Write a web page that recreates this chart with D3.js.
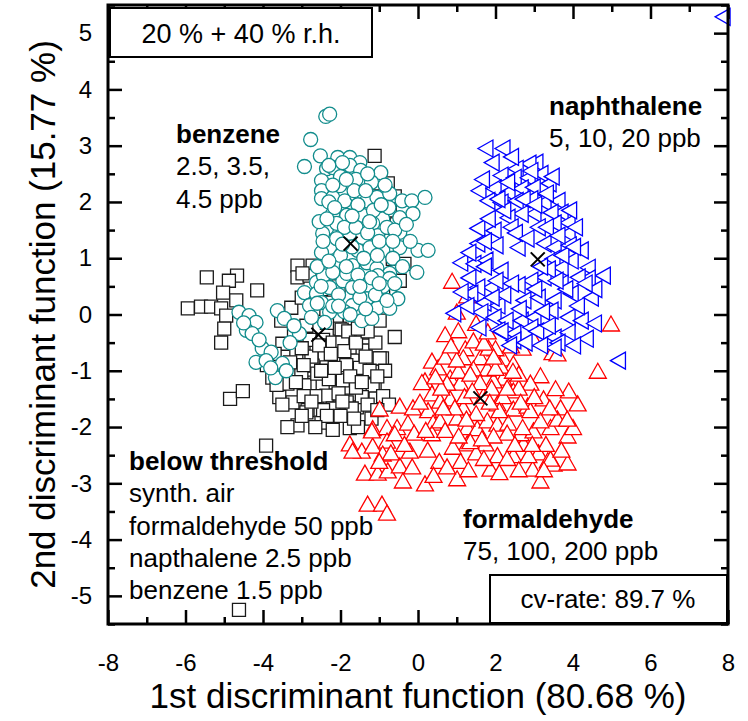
<!DOCTYPE html>
<html>
<head>
<meta charset="utf-8">
<script src="https://cdn.jsdelivr.net/npm/d3@7"></script>
<style>
  body { margin: 0; background: #fff; }
  text { font-family: "Liberation Sans", Arial, sans-serif; fill: #000; }
</style>
</head>
<body>
<svg id="chart" width="748" height="721"></svg>
<script>
//////////////////// DATA ////////////////////
// discriminant scores [1st DF, 2nd DF]
const belowThreshold = [
  [-4.62,-5.25],[-3.92,-2.33],[-4.85,-1.50],[-4.52,-1.36],
  [-1.12,2.82],[-1.43,2.38],[-1.04,2.33],[-0.78,2.33],[-0.73,1.85],[-0.80,1.31],[-0.65,0.99],[-0.47,0.60],
  [-3.11,0.87],[-2.72,0.87],[-3.11,0.66],[-2.80,0.69],[-5.45,0.66],[-4.67,0.69],[-4.88,0.60],[-4.15,0.43],
  [-5.03,0.39],[-4.69,0.25],[-5.94,0.11],[-5.60,0.14],[-5.34,0.14],[-5.08,0.11],[-4.95,-0.02],[-5.00,-0.25],
  [-5.08,-0.50],[-3.27,0.12],[-3.53,-0.11],[-2.28,0.21],[-2.10,-0.05],[-1.76,-0.07],[-1.43,-0.32],[-2.02,-0.25],
  [-3.50,-0.52],[-3.14,-0.69],[-1.71,-0.59],[-1.43,-0.64],[-0.93,-0.78],[-3.76,-1.12],[-3.40,-1.21],[-3.24,-1.56],
  [-2.85,-1.21],[-2.70,-1.25],[-2.20,-1.21],[-1.84,-1.30],[-1.43,-1.47],[-1.12,-1.26],[-1.58,-1.65],[-2.28,-1.65],
  [-2.85,-1.70],[-2.98,0.73],[-0.73,0.37],[-0.99,-0.11],[-1.97,-0.27],[-2.88,-0.20],[-2.62,-0.64],[-2.41,-0.76],
  [-2.10,-0.76],[-1.17,-0.78],[-2.72,-0.91],[-2.36,-0.94],[-2.07,-1.03],[-1.69,-0.82],[-3.01,-1.03],[-3.37,-1.23],
  [-2.93,-1.26],[-2.46,-1.26],[-1.94,-1.17],[-1.58,-1.17],[-1.17,-1.26],[-3.58,-1.47],[-2.36,-1.44],[-1.84,-1.56],
  [-1.45,-1.47],[-2.88,-1.74],[-2.49,-1.92],[-2.20,-1.67],[-1.71,-1.67],[-3.11,-1.97],[-3.37,-2.00],[-1.76,-2.02],
  [-0.99,-0.78],[-2.80,-0.45],[-2.45,-0.45],[-2.20,-0.50],[-1.95,-0.50],[-2.60,-1.05],[-2.30,-1.15],[-1.85,-0.90],
  [-1.50,-0.95],[-1.25,-1.00],[-2.65,-1.45],[-2.05,-1.40],[-1.60,-1.30],[-1.30,-1.60],[-2.75,-0.75],[-3.30,-0.85],
  [-3.00,-0.60],[-2.35,-0.15],[-1.80,-0.30],[-1.10,-0.50],[-0.85,-1.00],[-0.90,-1.45],[-1.20,-1.85],[-2.00,-1.80],
  [-3.50,-1.60],[-2.95,-1.45],[-3.70,-0.70],[-1.55,-2.00],[-2.20,-2.05],[-2.45,-1.70],
  [-0.55,1.60],[-0.60,2.10],[-0.90,0.45],[-0.35,0.90],
  [-3.20,-0.30],[-2.95,-0.90],[-2.55,-0.55],[-2.25,-0.70],[-1.90,-0.65],[-1.60,-0.50],[-1.35,-0.75],[-1.05,-1.10],
  [-2.50,-1.00],[-2.15,-0.95],[-1.75,-1.10],[-1.45,-1.20],[-3.15,-1.20],[-2.75,-1.55],[-2.35,-1.80],[-1.95,-1.55],
  [-1.65,-1.85],[-2.65,-2.00],[-3.00,-1.80],[-3.65,-1.25],[-1.30,-0.30],[-1.55,-0.25],[-2.70,0.10],[-2.50,0.45],
  [-3.00,0.30],[-0.60,-0.40],[-0.75,-1.60],[-1.05,-1.70],[-3.90,-0.90],[-2.05,0.50]
];

const benzene = [
  [-2.38,3.52],[-2.28,3.56],[-2.77,3.11],[-2.52,2.82],[-2.93,2.63],[-2.07,2.79],[-1.76,2.79],[-1.50,2.70],
  [-2.36,2.59],[-2.20,2.61],[-1.76,2.65],[-1.48,2.56],[-0.96,2.52],[-2.49,2.38],[-2.02,2.29],[-2.49,2.20],
  [-2.49,2.06],[-2.20,2.08],[-1.89,2.02],[-1.58,2.11],[-1.32,2.02],[-1.06,2.08],[-0.73,2.15],[-0.41,2.02],
  [-0.16,2.02],[0.18,2.08],[-0.13,1.79],[-0.47,1.72],[-0.91,1.70],[-2.20,1.79],[-1.84,1.76],[-1.43,1.76],
  [-1.17,1.62],[-2.36,1.53],[-2.10,1.62],[-1.76,1.44],[-1.43,1.37],[-1.04,1.40],[-0.47,1.46],[-2.46,1.44],
  [-2.28,1.19],[-2.49,1.10],[-1.56,1.14],[-1.24,1.19],[-0.91,1.14],[-0.47,1.19],[0.00,1.14],[0.26,1.14],
  [-2.02,0.92],[-1.69,0.87],[-1.32,0.92],[-1.06,0.82],[-0.73,0.73],[-0.03,0.75],[-2.36,0.73],[-1.43,0.57],
  [-2.62,0.57],[-1.94,0.60],[-2.44,0.69],[-1.84,0.73],[-1.04,0.69],[-0.73,0.64],[-2.93,0.39],[-2.62,0.37],
  [-2.28,0.48],[-1.69,0.48],[-1.24,0.46],[-0.52,0.28],[-1.32,0.28],[-2.80,0.16],[-2.49,0.21],[-1.69,0.16],
  [-1.04,0.12],[-0.73,0.11],[-4.62,0.04],[-4.36,-0.02],[-3.63,0.07],[-3.45,-0.07],[-2.28,0.04],[-1.45,-0.11],
  [-1.19,-0.07],[-4.18,-0.14],[-2.41,-0.14],[-4.43,-0.28],[-4.28,-0.34],[-3.06,-0.34],[-4.02,-0.60],[-3.79,-0.67],
  [-4.18,-0.85],[-3.92,-0.82],[-3.50,-0.87],[-3.68,-1.12],
  [-2.00,2.45],[-1.60,2.40],[-1.20,2.35],[-0.85,2.30],[-2.30,2.00],[-1.90,1.55],[-1.55,1.95],[-1.15,1.85],
  [-0.75,1.90],[-2.10,1.35],[-1.60,1.55],[-1.30,1.45],[-0.80,1.55],[-2.45,1.30],[-2.00,1.05],[-1.70,1.20],
  [-1.40,1.00],[-1.05,1.05],[-0.65,1.00],[-2.20,0.75],[-1.85,0.85],[-1.55,0.70],[-1.20,0.65],[-0.90,0.50],
  [-2.50,0.50],[-2.05,0.35],[-1.50,0.30],[-1.10,0.35],[-0.80,0.25],[-2.20,0.15],[-1.90,0.05],[-1.35,0.10],
  [-2.75,-0.05],[-2.60,0.20],[-3.20,-0.20],[-3.30,-0.50],[-3.80,-0.95],[-3.40,-1.00],[-4.10,-0.45],[-4.50,-0.15],
  [-2.30,2.65],[-1.95,2.70],[-1.30,2.50],[-0.60,1.50],[-0.30,1.60],[-1.00,1.30],[-1.65,2.20],[-2.15,1.90],
  [-2.55,1.65],[-2.60,0.85],[-0.40,0.85],[-0.20,1.30],
  [-1.85,2.40],[-1.35,2.20],[-0.95,1.95],[-2.35,1.70],[-1.95,1.25],[-1.25,1.65],[-0.65,1.30],[-2.30,0.95],
  [-1.50,0.50],[-1.00,0.55],[-2.05,0.15],[-0.60,0.55],[-1.75,0.00],[-2.20,2.30],[-1.70,1.75]
];

const formaldehyde = [
  [0.88,0.60],[1.27,0.34],[1.04,-0.28],[1.22,-0.60],[1.43,-0.46],[4.98,-0.16],[4.64,-1.00],[2.70,-0.59],
  [3.47,-0.67],[0.36,-0.82],[0.52,-0.94],[0.18,-1.17],[0.36,-1.40],[0.26,-1.70],[0.39,-1.92],[0.36,-2.11],
  [-0.99,-1.67],[-0.47,-1.62],[-0.13,-1.65],[-1.17,-2.02],[-0.80,-2.00],[-0.54,-2.00],[-0.26,-1.92],[-1.76,-2.29],
  [-1.45,-2.42],[-1.17,-2.33],[-0.80,-2.24],[-0.60,-2.11],[-0.21,-2.42],[-0.91,-2.47],[-1.37,-2.81],[-1.04,-2.81],
  [-0.78,-2.77],[-0.47,-2.68],[-0.39,-2.95],[0.18,-3.00],[1.01,-2.91],[-1.30,-3.36],[-0.93,-3.36],[-0.80,-3.52],
  [0.83,-1.12],[1.09,-1.21],[0.83,-1.49],[1.17,-1.65],[1.01,-1.83],[0.57,-1.88],[1.27,-2.00],[1.53,-2.02],
  [1.79,-1.88],[2.05,-1.94],[1.27,-2.29],[1.74,-2.29],[2.05,-2.50],[1.87,-2.74],[2.46,-2.50],[2.72,-2.29],
  [2.65,-2.11],[2.98,-2.06],[3.11,-2.45],[3.35,-2.59],[3.50,-2.65],[3.86,-2.63],[3.16,-2.95],[2.96,-2.74],
  [3.86,-2.15],[3.42,-2.00],[3.16,-1.88],[3.68,-1.65],[4.12,-1.58],[3.89,-1.35],[3.55,-1.31],[3.16,-1.08],
  [2.90,-1.21],[2.46,-1.35],[2.20,-1.12],[1.95,-1.17],[1.79,-0.96],[2.20,-0.78],[2.46,-0.87],[2.00,-0.60],
  [1.61,-0.76],[1.43,-0.96],[1.04,-1.00],[0.75,-1.21],[0.57,-1.53],[1.17,-0.76],[1.69,-1.44],[2.05,-1.58],
  [2.46,-1.67],[2.83,-1.62],[3.24,-1.49],[2.33,-1.92],[-1.19,-2.06],[-1.69,-2.42],[3.42,-2.56],[2.98,-0.43],
  [3.60,-0.69],[2.13,-0.91],[1.82,-0.59],
  [0.70,-0.75],[1.00,-0.80],[1.35,-1.05],[1.60,-1.20],[1.90,-1.30],[2.20,-1.45],[2.60,-1.30],[2.90,-1.70],
  [2.70,-2.00],[2.30,-2.10],[1.95,-2.15],[1.50,-1.75],[1.20,-1.45],[0.95,-1.65],[0.70,-2.05],[0.90,-2.35],
  [1.10,-2.60],[1.50,-2.45],[2.30,-2.55],[2.60,-2.75],[3.30,-2.30],[3.60,-1.85],[2.40,-0.55],[2.00,-0.95],
  [1.70,-0.50],[0.60,-1.30],[0.25,-2.40],[-0.10,-2.10],[0.05,-1.55],[0.55,-2.60],[1.35,-2.25],[2.85,-2.50],
  [1.05,-2.15],[2.10,-1.70],[1.80,-0.30],[1.50,-0.15],[1.00,0.05],[0.70,-0.35],[2.60,-1.05],
  [0.10,-1.20],[0.45,-1.10],[0.65,-1.65],[0.20,-2.05],[-0.35,-2.30],[-0.70,-2.45],[-1.00,-2.60],[-0.15,-2.70],
  [0.40,-2.85],[0.75,-2.70],[1.30,-2.75],[1.70,-2.55],[2.10,-2.80],[2.50,-2.30],[2.95,-2.30],[3.25,-2.75],
  [3.70,-2.40],[4.00,-2.00],[3.40,-1.65],[3.00,-1.45],[2.65,-1.55],[2.30,-1.30],[1.85,-1.55],[1.40,-1.35],
  [1.25,-1.85],[1.65,-2.20],[2.45,-1.00],[1.95,-0.75],[0.85,-0.55],[3.85,-1.85]
];

const naphthalene = [
  [7.86,5.29],[1.74,2.95],[2.18,2.95],[3.03,2.70],[2.85,2.68],[2.52,2.59],[2.13,2.47],[2.47,2.43],
  [2.83,2.43],[3.16,2.50],[3.37,2.33],[1.56,2.20],[1.95,2.24],[2.31,2.17],[2.65,2.24],[2.96,2.26],
  [1.79,2.02],[2.13,1.99],[2.52,2.02],[2.90,2.05],[3.24,1.99],[3.60,2.02],[3.68,1.81],[3.42,1.81],
  [2.98,1.79],[2.65,1.79],[2.31,1.72],[3.86,1.63],[3.50,1.62],[1.53,1.53],[1.95,1.49],[2.39,1.55],
  [3.09,1.55],[3.86,1.44],[1.53,1.26],[2.00,1.23],[2.57,1.19],[3.24,1.26],[3.50,1.19],[3.89,1.23],
  [4.20,1.14],[1.09,0.92],[1.43,0.90],[1.74,0.96],[2.13,0.78],[3.47,0.99],[3.68,0.83],[3.94,0.96],
  [4.38,0.83],[4.77,0.69],[4.38,0.64],[4.12,0.66],[3.68,0.55],[3.24,0.66],[2.90,0.60],[2.57,0.52],
  [1.87,0.48],[1.53,0.48],[1.35,0.37],[1.69,0.21],[2.05,0.16],[2.72,0.25],[3.09,0.30],[3.50,0.25],
  [3.94,0.37],[4.46,0.30],[0.91,0.02],[1.61,0.04],[1.95,-0.05],[2.26,-0.11],[2.65,-0.11],[2.98,-0.05],
  [3.42,0.07],[3.86,-0.05],[4.20,-0.11],[4.54,-0.16],[1.56,-0.23],[2.05,-0.28],[2.46,-0.34],[2.90,-0.23],
  [3.50,-0.41],[3.86,-0.32],[4.33,-0.43],[3.60,-0.50],[5.16,-0.82],[2.46,-0.46],[3.50,-0.59],[2.13,-0.30],
  [2.30,2.35],[2.70,2.05],[3.00,1.95],[2.20,1.85],[2.50,1.45],[2.80,1.35],[3.30,1.55],[3.60,1.40],
  [3.35,0.80],[1.80,1.70],[3.00,0.45],[2.40,0.55],[2.00,0.60],[3.80,0.45],[3.20,0.05],[2.60,0.10],
  [2.20,0.35],[1.30,0.65],[4.10,0.15],[3.70,1.05],[3.90,1.85],[2.90,2.55],[3.30,2.15],[1.70,0.85],
  [3.05,-0.30],[2.35,-0.55],[3.15,-0.55],[4.55,0.45],[1.25,0.15],
  [1.90,2.70],[2.40,2.80],[1.65,2.40],[2.05,2.05],[1.70,1.30],[1.30,1.10],[3.45,2.45],[4.05,1.55],
  [4.00,1.20],[4.30,0.55],[3.55,0.60],[3.15,0.85],[1.10,0.40],[1.90,0.30],[2.75,-0.50],[4.00,-0.55],
  [3.35,-0.20]
];

// group centroids (marked with x)
const centroids = [[-1.74,1.26],[-2.57,-0.36],[3.09,0.98],[1.61,-1.49]];

// axis ticks
const xMajor = [-8,-6,-4,-2,0,2,4,6,8];
const xMinor = [-7,-5,-3,-1,1,3,5,7];
const yMajor = [-5,-4,-3,-2,-1,0,1,2,3,4,5];
const yMinor = [-5.5,-4.5,-3.5,-2.5,-1.5,-0.5,0.5,1.5,2.5,3.5,4.5,5.5];


//////////////////// SIZES & SCALES ////////////////////
const svg = d3.select("#chart");
const plot = { left: 108, right: 728, top: 5, bottom: 624 };

const x = d3.scaleLinear().domain([-8, 8]).range([plot.left, plot.right]);
const y = d3.scaleLinear().domain([-5.5, 5.5]).range([plot.bottom, plot.top]);


//////////////////// MARKERS ////////////////////
const sq = "M-6.5,-6.5H6.5V6.5H-6.5Z";
const circ = d3.symbol(d3.symbolCircle, Math.PI * 7 * 7)();
const triUp = "M0,-7.5L8.5,7.5L-8.5,7.5Z";
const triLeft = "M-7.5,0L7.5,-8.5L7.5,8.5Z";

function drawGroup(data, path, color, cls) {
    svg.append("g")
        .attr("class", cls)
        .selectAll("path")
        .data(data)
        .join("path")
        .attr("transform", d => `translate(${x(d[0])},${y(d[1])})`)
        .attr("d", path)
        .attr("fill", "#fff")
        .attr("stroke", color)
        .attr("stroke-width", 1.3);
}

drawGroup(belowThreshold, sq, "#1a1a1a", "below");
drawGroup(benzene, circ, "#118c8c", "benzene");
drawGroup(formaldehyde, triUp, "#ff0000", "formaldehyde");
drawGroup(naphthalene, triLeft, "#0000ff", "naphthalene");

// centroids
svg.append("g")
    .selectAll("path")
    .data(centroids)
    .join("path")
    .attr("transform", d => `translate(${x(d[0])},${y(d[1])})`)
    .attr("d", "M-7,-7L7,7M-7,7L7,-7")
    .attr("stroke", "#000")
    .attr("stroke-width", 2)
    .attr("fill", "none");


//////////////////// AXES (inward ticks on all sides) ////////////////////
function tickAxis(axis, pos, values, len, labels, pad) {
    const g = svg.append("g")
        .attr("transform", pos)
        .call(axis.tickValues(values).tickSize(-len).tickPadding(pad || 3)
            .tickFormat(labels ? (d => String(d)) : ""));
    g.select(".domain").remove();
    g.selectAll(".tick line").attr("stroke", "#000").attr("stroke-width", 2.5);
    g.selectAll(".tick text").style("font-size", "24px").attr("fill", "#000");
    return g;
}

tickAxis(d3.axisBottom(x), `translate(0,${plot.bottom})`, xMajor, 14, true, 30);
tickAxis(d3.axisBottom(x), `translate(0,${plot.bottom})`, xMinor, 7, false);
tickAxis(d3.axisTop(x), `translate(0,${plot.top})`, xMajor, 14, false);
tickAxis(d3.axisTop(x), `translate(0,${plot.top})`, xMinor, 7, false);
tickAxis(d3.axisLeft(y), `translate(${plot.left},0)`, yMajor, 14, true, 16);
tickAxis(d3.axisLeft(y), `translate(${plot.left},0)`, yMinor, 7, false);
tickAxis(d3.axisRight(y), `translate(${plot.right},0)`, yMajor, 14, false);
tickAxis(d3.axisRight(y), `translate(${plot.right},0)`, yMinor, 7, false);


//////////////////// BOXES & ANNOTATIONS ////////////////////
svg.append("rect")
    .attr("x", 110).attr("y", 8).attr("width", 262).attr("height", 49)
    .attr("fill", "#fff").attr("stroke", "#000").attr("stroke-width", 2);
svg.append("text")
    .attr("x", 241).attr("y", 43)
    .attr("text-anchor", "middle")
    .style("font-size", "27px")
    .text("20 % + 40 % r.h.");

svg.append("rect")
    .attr("x", 490).attr("y", 575).attr("width", 237).attr("height", 48)
    .attr("fill", "#fff").attr("stroke", "#000").attr("stroke-width", 2);
svg.append("text")
    .attr("x", 608).attr("y", 608)
    .attr("text-anchor", "middle")
    .style("font-size", "26px")
    .text("cv-rate: 89.7 %");

const labels = [
    { x: 176, y: 143, lines: ["benzene", "2.5, 3.5,", "4.5 ppb"] },
    { x: 549, y: 115, lines: ["naphthalene", "5, 10, 20 ppb"] },
    { x: 463, y: 528, lines: ["formaldehyde", "75, 100, 200 ppb"] },
    { x: 129, y: 470, lines: ["below threshold", "synth. air", "formaldehyde 50 ppb", "napthalene 2.5 ppb", "benzene 1.5 ppb"] }
];

labels.forEach(l => {
    const t = svg.append("text")
        .attr("x", l.x).attr("y", l.y)
        .style("font-size", "26px");
    l.lines.forEach((line, i) => {
        t.append("tspan")
            .attr("x", l.x)
            .attr("dy", i === 0 ? 0 : 32.3)
            .style("font-weight", i === 0 ? "bold" : "normal")
            .text(line);
    });
});

// frame
svg.append("rect")
    .attr("x", plot.left).attr("y", plot.top)
    .attr("width", plot.right - plot.left).attr("height", plot.bottom - plot.top)
    .attr("fill", "none").attr("stroke", "#000").attr("stroke-width", 3);


//////////////////// AXIS TITLES ////////////////////
svg.append("text")
    .attr("x", (plot.left + plot.right) / 2)
    .attr("y", 708)
    .attr("text-anchor", "middle")
    .style("font-size", "35px")
    .text("1st discriminant function (80.68 %)");

svg.append("text")
    .attr("transform", `translate(55,${(plot.top + plot.bottom) / 2}) rotate(-90)`)
    .attr("text-anchor", "middle")
    .style("font-size", "35px")
    .text("2nd discriminant function (15.77 %)");
</script>
</body>
</html>
